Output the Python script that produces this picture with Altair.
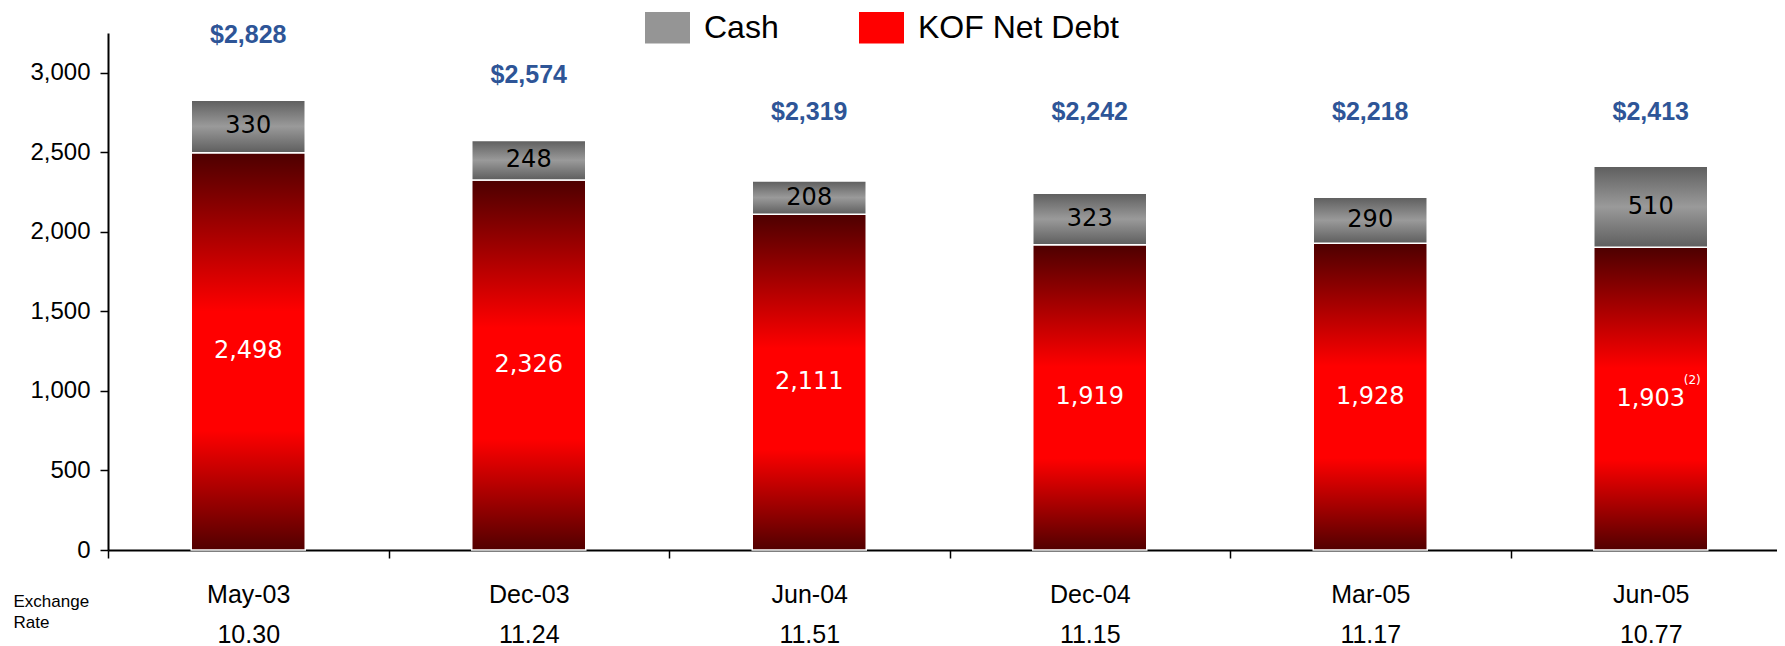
import altair as alt
import pandas as pd

periods = ["May-03", "Dec-03", "Jun-04", "Dec-04", "Mar-05", "Jun-05"]
exchange_rates = ["10.30", "11.24", "11.51", "11.15", "11.17", "10.77"]
net_debt = [2498, 2326, 2111, 1919, 1928, 1903]
cash = [330, 248, 208, 323, 290, 510]
notes = ["", "", "", "", "", "(2)"]

df = pd.DataFrame({
    "period": periods,
    "rate": exchange_rates,
    "debt": net_debt,
    "cash": cash,
    "note": notes,
})
df["xlab"] = [p + "|" + r for p, r in zip(periods, exchange_rates)]

W, H = 1669, 517

x_enc = alt.X(
    "xlab:N", sort=None,
    scale=alt.Scale(range=[0, 1683], paddingInner=0, paddingOuter=0),
    axis=alt.Axis(
        labelExpr="isValid(datum.value) && datum.value != '' ? split(datum.value, '|') : ''",
        labelAngle=0, labelFont="Liberation Sans", labelFontSize=25, labelColor="#000",
        labelLineHeight=40, labelPadding=24, labelBaseline="top",
        tickBand="extent", tickSize=8, tickColor="#000", tickWidth=1.5,
        domainColor="#000", domainWidth=2,
        title=["Exchange", "Rate"], titleX=-95, titleY=43, titleAlign="left",
        titleBaseline="top", titleAnchor="start", titleFont="Liberation Sans",
        titleFontSize=17, titleFontWeight="normal", titleColor="#000",
        titleLineHeight=21, titleAngle=0,
    ),
)

y_scale = alt.Scale(domain=[0, 3250], nice=False)
y_axis = alt.Axis(
    values=[0, 500, 1000, 1500, 2000, 2500, 3000], format=",d",
    labelFont="Liberation Sans", labelFontSize=24, labelColor="#000", labelPadding=10,
    tickSize=8, tickColor="#000", tickWidth=1.5, domainColor="#000", domainWidth=2,
    grid=False, title=None,
)

color_enc = alt.Color(
    "series:N",
    scale=alt.Scale(domain=["Cash", "KOF Net Debt"], range=["#959595", "#ff0000"]),
    legend=alt.Legend(
        orient="none", legendX=537, legendY=-28, direction="horizontal", title=None,
        symbolType="M-1,-0.7H1V0.7H-1Z", symbolSize=2025, symbolStrokeWidth=0,
        labelFont="Liberation Sans", labelFontSize=32, labelColor="#000",
        labelOffset=14, columnPadding=80, labelLimit=400,
    ),
)

red_grad = alt.LinearGradient(
    gradient="linear", x1=0, x2=0, y1=0, y2=1,
    stops=[
        alt.GradientStop(offset=0, color="#4d0000"),
        alt.GradientStop(offset=0.4, color="#ff0000"),
        alt.GradientStop(offset=0.7, color="#ff0000"),
        alt.GradientStop(offset=1, color="#520000"),
    ],
)
gray_grad = alt.LinearGradient(
    gradient="linear", x1=0, x2=0, y1=0, y2=1,
    stops=[
        alt.GradientStop(offset=0, color="#5e5e5e"),
        alt.GradientStop(offset=0.5, color="#9a9a9a"),
        alt.GradientStop(offset=1, color="#5e5e5e"),
    ],
)

base = alt.Chart(df).transform_calculate(
    total="datum.debt + datum.cash",
    cash_mid="datum.debt + datum.cash / 2",
    debt_mid="datum.debt / 2",
    total_pos="(datum.debt + datum.cash) > 2500 ? datum.debt + datum.cash + 410 : 2755",
)

bar_w = 114

debt_solid = base.transform_calculate(series="'KOF Net Debt'").mark_bar(size=bar_w).encode(
    x=x_enc, y=alt.Y("debt:Q", scale=y_scale, axis=y_axis), color=color_enc)
cash_solid = base.transform_calculate(series="'Cash'").mark_bar(size=bar_w).encode(
    x=x_enc, y=alt.Y("debt:Q", scale=y_scale, axis=y_axis), y2="total:Q", color=color_enc)

debt_grad = base.mark_bar(size=bar_w, fill=red_grad, stroke="white", strokeWidth=1.5).encode(
    x=x_enc, y=alt.Y("debt:Q", scale=y_scale, axis=y_axis))
cash_grad = base.mark_bar(size=bar_w, fill=gray_grad, stroke="white", strokeWidth=1.5).encode(
    x=x_enc, y=alt.Y("debt:Q", scale=y_scale, axis=y_axis), y2="total:Q")

cash_text = base.mark_text(font="DejaVu Sans", fontSize=24, color="#000", baseline="middle").encode(
    x=x_enc, y=alt.Y("cash_mid:Q", scale=y_scale, axis=y_axis), text=alt.Text("cash:Q", format=",d"))
debt_text = base.mark_text(font="DejaVu Sans", fontSize=24, color="#fff", baseline="middle").encode(
    x=x_enc, y=alt.Y("debt_mid:Q", scale=y_scale, axis=y_axis), text=alt.Text("debt:Q", format=",d"))
note_text = base.mark_text(font="DejaVu Sans", fontSize=12, color="#fff", baseline="middle",
                           align="left", dx=33, dy=-19).encode(
    x=x_enc, y=alt.Y("debt_mid:Q", scale=y_scale, axis=y_axis), text="note:N")
total_text = base.mark_text(font="Liberation Sans", fontSize=25, fontWeight="bold",
                            color="#2E5597", baseline="middle").encode(
    x=x_enc, y=alt.Y("total_pos:Q", scale=y_scale, axis=y_axis),
    text=alt.Text("total:Q", format="$,d"))

chart = alt.layer(
    debt_solid, cash_solid, debt_grad, cash_grad, cash_text, debt_text, note_text, total_text
).properties(
    width=W, height=H,
    autosize=alt.AutoSizeParams(type="none"),
    padding={"left": 100, "top": 25, "right": 0, "bottom": 96},
).configure_view(stroke=None)

chart.save("out.html", embed_options={"renderer": "svg", "actions": False})
